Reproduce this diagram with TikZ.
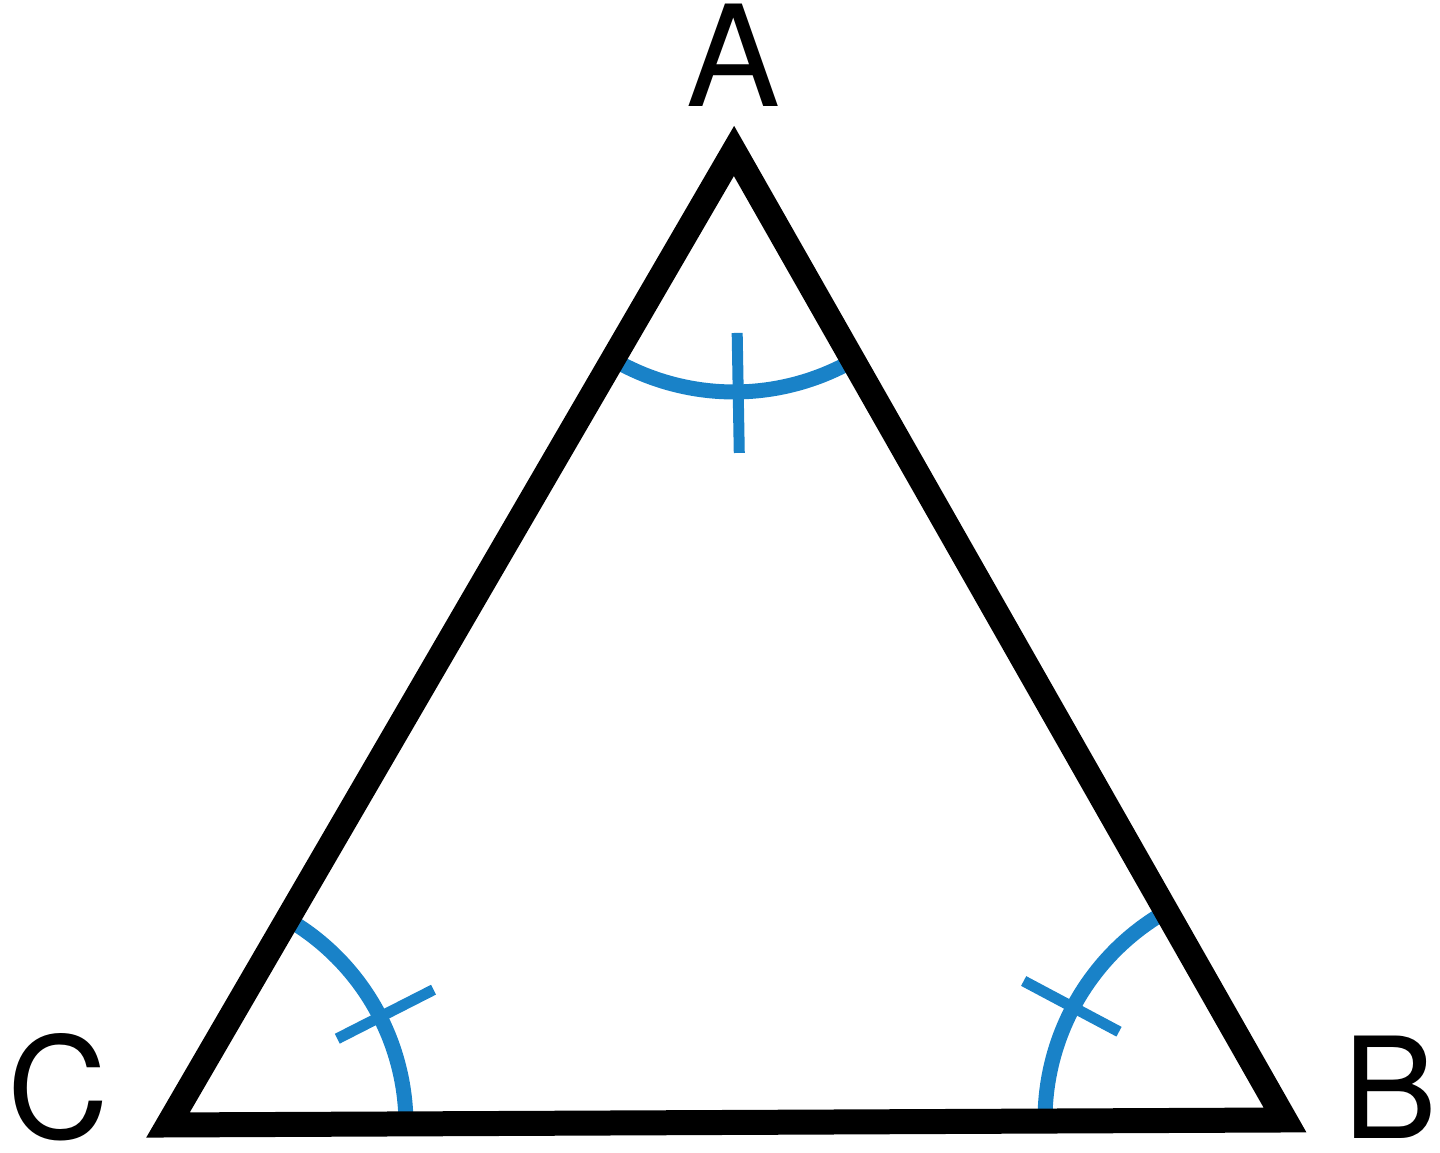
\documentclass[tikz,border=0pt]{standalone}
\usepackage{fontspec}
\setmainfont{TeX Gyre Heros}
\usetikzlibrary{calc}
\definecolor{markblue}{RGB}{25,130,200}
\tikzstyle{side} = [draw=black, line width=0.25cm, line join=miter]
\tikzstyle{anglearc} = [draw=markblue, line width=0.15cm]
\tikzstyle{tick} = [draw=markblue, line width=0.11cm]
\tikzstyle{vlabel} = [inner sep=0pt, font=\fontsize{40}{48}\selectfont]

\begin{document}
\begin{tikzpicture}
		\useasboundingbox (0,0) rectangle (14.4,11.53);
		\coordinate (A) at (7.34,10.02);
		\coordinate (B) at (12.85,0.33);
		\coordinate (C) at (1.68,0.28);
		
		% angle marks
		\draw [anglearc] ($(A)+(240:2.41)$) arc [start angle=240, end angle=300, radius=2.41];
		\draw [anglearc] ($(C)+(0:2.38)$) arc [start angle=0, end angle=60, radius=2.38];
		\draw [anglearc] ($(B)+(120:2.4)$) arc [start angle=120, end angle=180, radius=2.4];
		\draw [tick] ($(A)+(271:1.82)$) -- ($(A)+(271:3.02)$);
		\draw [tick] ($(C)+(27:1.9)$) -- ($(C)+(27:2.98)$);
		\draw [tick] ($(B)+(152:1.88)$) -- ($(B)+(152:2.96)$);
		
		\path [side] (A) -- (B) -- (C) -- cycle;
		
		\node [vlabel] (labA) at (7.33,10.98) {A};
		\node [vlabel] (labB) at (13.9,0.66) {B};
		\node [vlabel] (labC) at (0.58,0.66) {C};
	\end{tikzpicture}
\end{document}
